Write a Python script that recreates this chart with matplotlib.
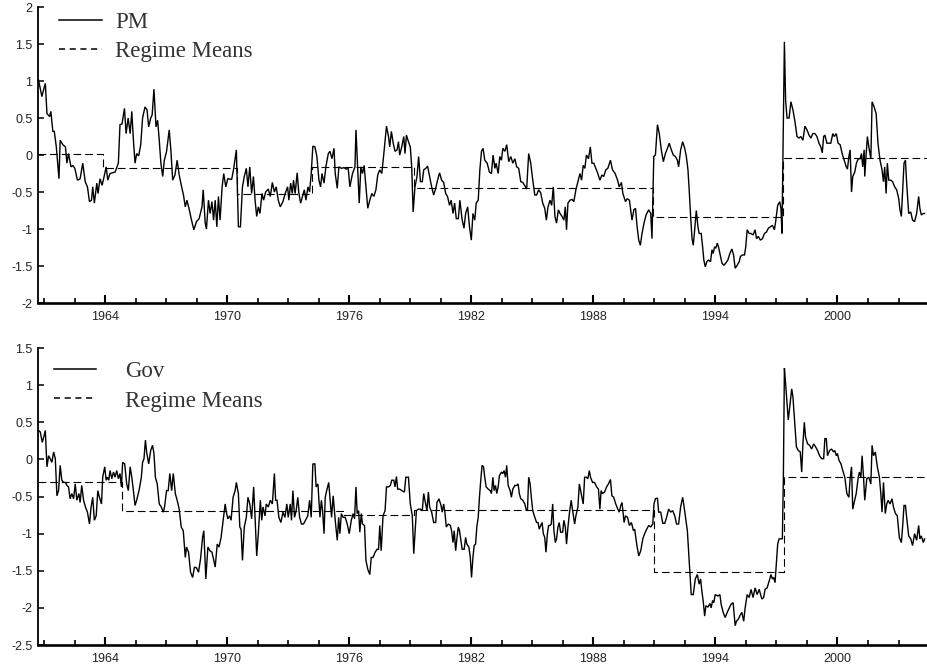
import matplotlib

matplotlib.use("Agg")
import matplotlib.pyplot as plt
import numpy as np
from matplotlib.lines import Line2D
from matplotlib.ticker import FixedLocator, FuncFormatter


# (year, value) vertices
PM_POINTS = [
    (1960.73, 1.01), (1960.89, 0.79), (1961.06, 0.97), (1961.14, 0.56), (1961.27, 0.52), (1961.33, 0.59),
    (1961.43, 0.32), (1961.50, 0.32), (1961.60, 0.11), (1961.73, -0.32), (1961.79, 0.20), (1961.92, 0.14),
    (1962.05, 0.11), (1962.12, -0.11), (1962.20, 0.02), (1962.32, -0.16), (1962.41, -0.14), (1962.51, -0.18),
    (1962.64, -0.34), (1962.77, -0.32), (1962.90, -0.11), (1963.02, -0.36), (1963.13, -0.43), (1963.23, -0.63),
    (1963.33, -0.61), (1963.39, -0.43), (1963.47, -0.65), (1963.59, -0.38), (1963.65, -0.52), (1963.75, -0.32),
    (1963.85, -0.41), (1963.95, -0.29), (1964.05, -0.16), (1964.13, -0.34), (1964.24, -0.25), (1964.49, -0.23),
    (1964.65, -0.11), (1964.73, 0.41), (1964.83, 0.42), (1964.95, 0.63), (1965.03, 0.29), (1965.13, 0.50),
    (1965.23, 0.29), (1965.31, 0.59), (1965.39, 0.20), (1965.47, -0.11), (1965.55, 0.02), (1965.65, -0.01),
    (1965.75, 0.14), (1965.84, 0.50), (1965.96, 0.65), (1966.06, 0.61), (1966.14, 0.38), (1966.24, 0.50),
    (1966.31, 0.54), (1966.40, 0.89), (1966.50, 0.38), (1966.58, 0.47), (1966.66, 0.20), (1966.74, -0.11),
    (1966.83, -0.29), (1966.91, -0.07), (1967.02, 0.05), (1967.15, 0.34), (1967.23, 0.07), (1967.32, -0.34),
    (1967.43, -0.27), (1967.54, -0.07), (1967.64, -0.27), (1967.76, -0.43), (1967.85, -0.54), (1967.94, -0.70),
    (1968.02, -0.61), (1968.12, -0.72), (1968.23, -0.86), (1968.36, -1.01), (1968.49, -0.90), (1968.62, -0.86),
    (1968.76, -0.70), (1968.82, -0.47), (1968.92, -0.92), (1968.98, -1.00), (1969.08, -0.61), (1969.16, -0.79),
    (1969.25, -0.63), (1969.33, -0.88), (1969.41, -0.61), (1969.49, -0.97), (1969.57, -0.56), (1969.65, -0.88),
    (1969.75, -0.43), (1969.83, -0.25), (1969.93, -0.43), (1970.03, -0.32), (1970.22, -0.33), (1970.32, -0.18),
    (1970.45, 0.07), (1970.55, -0.97), (1970.65, -0.97), (1970.75, -0.43), (1970.84, -0.29), (1970.94, -0.18),
    (1971.02, -0.43), (1971.11, -0.16), (1971.20, -0.52), (1971.29, -0.29), (1971.37, -0.61), (1971.45, -0.83),
    (1971.53, -0.70), (1971.61, -0.79), (1971.71, -0.52), (1971.79, -0.61), (1971.89, -0.50), (1972.02, -0.46),
    (1972.12, -0.56), (1972.22, -0.37), (1972.32, -0.50), (1972.41, -0.43), (1972.51, -0.61), (1972.61, -0.70),
    (1972.74, -0.63), (1972.85, -0.52), (1972.97, -0.43), (1973.03, -0.61), (1973.12, -0.38), (1973.20, -0.52),
    (1973.26, -0.34), (1973.34, -0.52), (1973.44, -0.24), (1973.52, -0.51), (1973.61, -0.65), (1973.70, -0.56),
    (1973.79, -0.47), (1973.87, -0.61), (1973.97, -0.43), (1974.05, -0.50), (1974.13, -0.25), (1974.21, 0.12),
    (1974.31, 0.11), (1974.41, -0.02), (1974.51, -0.34), (1974.59, -0.43), (1974.66, -0.25), (1974.76, -0.38),
    (1974.85, -0.16), (1974.97, 0.02), (1975.05, 0.05), (1975.15, -0.05), (1975.25, 0.09), (1975.31, -0.25),
    (1975.41, -0.45), (1975.49, -0.16), (1975.62, -0.18), (1975.74, -0.17), (1975.84, -0.19), (1975.95, -0.18),
    (1976.03, -0.43), (1976.16, -0.25), (1976.28, -0.16), (1976.33, 0.34), (1976.41, -0.16), (1976.49, -0.65),
    (1976.57, -0.16), (1976.65, -0.25), (1976.73, -0.14), (1976.82, -0.43), (1976.91, -0.72), (1977.01, -0.61),
    (1977.11, -0.52), (1977.21, -0.56), (1977.31, -0.47), (1977.40, -0.27), (1977.50, -0.20), (1977.60, -0.25),
    (1977.70, 0.02), (1977.83, 0.39), (1977.93, 0.25), (1977.99, 0.11), (1978.07, 0.32), (1978.16, 0.16),
    (1978.25, 0.05), (1978.35, 0.07), (1978.42, 0.18), (1978.48, 0.00), (1978.58, 0.11), (1978.68, 0.25),
    (1978.74, 0.02), (1978.81, 0.27), (1978.91, 0.18), (1979.00, 0.11), (1979.07, -0.16), (1979.14, -0.77),
    (1979.23, -0.43), (1979.33, -0.29), (1979.41, -0.02), (1979.50, -0.36), (1979.59, -0.36), (1979.66, -0.20),
    (1979.76, -0.18), (1979.85, -0.15), (1979.95, -0.29), (1980.05, -0.43), (1980.15, -0.54), (1980.25, -0.45),
    (1980.34, -0.34), (1980.44, -0.24), (1980.54, -0.34), (1980.64, -0.37), (1980.74, -0.52), (1980.83, -0.56),
    (1980.93, -0.68), (1981.01, -0.61), (1981.10, -0.79), (1981.18, -0.65), (1981.26, -0.86), (1981.36, -0.86),
    (1981.44, -0.61), (1981.54, -0.86), (1981.64, -0.99), (1981.72, -0.79), (1981.82, -0.70), (1981.91, -0.97),
    (1982.00, -1.15), (1982.08, -0.79), (1982.17, -0.88), (1982.24, -0.65), (1982.34, -0.61), (1982.42, -0.20),
    (1982.50, 0.05), (1982.58, 0.09), (1982.66, -0.07), (1982.78, -0.11), (1982.89, -0.23), (1982.99, -0.25),
    (1983.07, 0.00), (1983.16, -0.18), (1983.22, -0.11), (1983.32, -0.25), (1983.40, -0.02), (1983.48, -0.07),
    (1983.55, 0.09), (1983.65, 0.05), (1983.74, 0.14), (1983.84, -0.09), (1983.94, -0.02), (1984.04, -0.11),
    (1984.14, -0.05), (1984.23, -0.16), (1984.33, -0.18), (1984.43, -0.36), (1984.53, -0.37), (1984.62, -0.41),
    (1984.72, -0.46), (1984.82, 0.02), (1984.92, -0.11), (1985.02, -0.34), (1985.12, -0.54), (1985.21, -0.54),
    (1985.31, -0.47), (1985.41, -0.51), (1985.51, -0.65), (1985.61, -0.72), (1985.69, -0.88), (1985.77, -0.70),
    (1985.87, -0.61), (1985.95, -0.68), (1986.03, -0.43), (1986.11, -0.83), (1986.19, -0.92), (1986.28, -0.74),
    (1986.36, -0.79), (1986.46, -0.83), (1986.55, -0.88), (1986.62, -0.70), (1986.68, -1.01), (1986.75, -0.65),
    (1986.85, -0.61), (1986.95, -0.60), (1987.04, -0.63), (1987.14, -0.47), (1987.24, -0.36), (1987.34, -0.25),
    (1987.42, -0.34), (1987.50, -0.14), (1987.58, -0.18), (1987.66, 0.00), (1987.76, -0.05), (1987.85, 0.11),
    (1987.93, -0.11), (1988.02, -0.11), (1988.12, -0.18), (1988.22, -0.25), (1988.32, -0.34), (1988.42, -0.27),
    (1988.51, -0.29), (1988.61, -0.20), (1988.71, -0.18), (1988.84, -0.07), (1988.94, -0.20), (1989.07, -0.25),
    (1989.19, -0.34), (1989.27, -0.43), (1989.38, -0.37), (1989.45, -0.52), (1989.58, -0.63), (1989.66, -0.59),
    (1989.77, -0.61), (1989.90, -0.88), (1989.99, -0.74), (1990.07, -0.72), (1990.15, -0.97), (1990.23, -1.15),
    (1990.31, -1.22), (1990.39, -1.06), (1990.49, -0.92), (1990.59, -0.81), (1990.72, -0.74), (1990.82, -0.79),
    (1990.88, -1.13), (1990.97, -0.02), (1991.05, 0.00), (1991.15, 0.41), (1991.24, 0.29), (1991.34, 0.07),
    (1991.44, -0.09), (1991.54, 0.02), (1991.64, 0.09), (1991.73, 0.16), (1991.83, 0.07), (1991.93, 0.00),
    (1992.03, -0.02), (1992.13, -0.07), (1992.19, -0.16), (1992.29, 0.07), (1992.39, 0.18), (1992.49, 0.09),
    (1992.57, -0.02), (1992.65, -0.20), (1992.71, -0.47), (1992.78, -0.83), (1992.85, -1.13), (1992.91, -1.22),
    (1992.98, -1.01), (1993.06, -0.75), (1993.14, -0.97), (1993.20, -1.06), (1993.30, -1.06), (1993.37, -1.24),
    (1993.43, -1.42), (1993.50, -1.51), (1993.58, -1.44), (1993.66, -1.42), (1993.76, -1.44), (1993.83, -1.28),
    (1993.89, -1.33), (1993.96, -1.24), (1994.02, -1.26), (1994.09, -1.19), (1994.15, -1.24), (1994.22, -1.33),
    (1994.32, -1.46), (1994.41, -1.49), (1994.51, -1.46), (1994.61, -1.42), (1994.71, -1.33), (1994.81, -1.27),
    (1994.89, -1.35), (1994.97, -1.53), (1995.07, -1.49), (1995.17, -1.44), (1995.23, -1.37), (1995.33, -1.35),
    (1995.43, -1.35), (1995.49, -1.24), (1995.56, -1.01), (1995.66, -1.06), (1995.75, -1.06), (1995.85, -1.08),
    (1995.95, -1.01), (1996.02, -1.13), (1996.11, -1.10), (1996.21, -1.15), (1996.31, -1.13), (1996.41, -1.06),
    (1996.51, -1.04), (1996.60, -0.99), (1996.70, -0.97), (1996.80, -0.95), (1996.90, -1.01), (1996.96, -0.90),
    (1997.06, -0.68), (1997.16, -0.63), (1997.22, -0.72), (1997.27, -1.06), (1997.32, 0.02), (1997.39, 1.53),
    (1997.45, 0.74), (1997.52, 0.50), (1997.62, 0.50), (1997.71, 0.72), (1997.81, 0.61), (1997.91, 0.45),
    (1998.01, 0.25), (1998.11, 0.23), (1998.20, 0.25), (1998.30, 0.20), (1998.40, 0.39), (1998.50, 0.34),
    (1998.60, 0.27), (1998.69, 0.23), (1998.79, 0.29), (1998.89, 0.29), (1998.99, 0.25), (1999.09, 0.16),
    (1999.18, 0.11), (1999.25, 0.03), (1999.32, 0.25), (1999.38, 0.27), (1999.48, 0.16), (1999.58, 0.16),
    (1999.67, 0.16), (1999.77, 0.29), (1999.84, 0.25), (1999.94, 0.29), (2000.03, 0.16), (2000.13, 0.14),
    (2000.23, 0.02), (2000.33, -0.07), (2000.43, -0.16), (2000.49, -0.19), (2000.56, -0.02), (2000.62, 0.07),
    (2000.69, -0.50), (2000.75, -0.29), (2000.85, -0.23), (2000.93, -0.11), (2001.02, -0.05), (2001.11, -0.05),
    (2001.18, 0.02), (2001.24, -0.16), (2001.31, 0.07), (2001.34, -0.29), (2001.41, 0.02), (2001.47, 0.25),
    (2001.54, 0.11), (2001.64, -0.05), (2001.70, 0.72), (2001.80, 0.65), (2001.90, 0.56), (2001.99, 0.16),
    (2002.09, -0.07), (2002.19, -0.20), (2002.26, -0.36), (2002.32, -0.16), (2002.39, -0.52), (2002.45, -0.11),
    (2002.52, -0.34), (2002.62, -0.34), (2002.71, -0.36), (2002.81, -0.43), (2002.91, -0.47), (2003.01, -0.59),
    (2003.07, -0.74), (2003.14, -0.83), (2003.20, -0.50), (2003.27, -0.11), (2003.34, -0.07), (2003.40, -0.38),
    (2003.50, -0.79), (2003.60, -0.77), (2003.69, -0.88), (2003.79, -0.90), (2003.89, -0.79), (2003.99, -0.56),
    (2004.05, -0.72), (2004.12, -0.81), (2004.22, -0.79), (2004.28, -0.79),
]

# (year, value) vertices
GOV_POINTS = [
    (1960.73, 0.39), (1960.81, 0.37), (1960.91, 0.23), (1960.98, 0.30), (1961.06, 0.39), (1961.14, -0.10),
    (1961.22, 0.05), (1961.30, 0.01), (1961.38, -0.04), (1961.47, 0.10), (1961.55, 0.01), (1961.63, -0.49),
    (1961.71, -0.42), (1961.79, -0.08), (1961.87, -0.28), (1961.96, -0.31), (1962.05, -0.31), (1962.12, -0.35),
    (1962.20, -0.37), (1962.28, -0.53), (1962.36, -0.46), (1962.45, -0.53), (1962.53, -0.33), (1962.61, -0.55),
    (1962.71, -0.46), (1962.77, -0.58), (1962.85, -0.35), (1962.94, -0.55), (1963.03, -0.64), (1963.13, -0.71),
    (1963.23, -0.87), (1963.31, -0.64), (1963.39, -0.51), (1963.47, -0.82), (1963.56, -0.76), (1963.64, -0.42),
    (1963.72, -0.51), (1963.82, -0.60), (1963.88, -0.24), (1963.98, -0.10), (1964.05, -0.28), (1964.11, -0.24),
    (1964.18, -0.28), (1964.24, -0.15), (1964.33, -0.26), (1964.41, -0.17), (1964.49, -0.24), (1964.57, -0.15),
    (1964.65, -0.26), (1964.73, -0.19), (1964.80, -0.37), (1964.86, -0.04), (1964.96, -0.06), (1965.06, -0.33),
    (1965.14, -0.42), (1965.23, -0.10), (1965.31, -0.24), (1965.39, -0.42), (1965.47, -0.62), (1965.55, -0.55),
    (1965.68, -0.40), (1965.78, -0.24), (1965.84, -0.04), (1965.91, 0.01), (1965.98, 0.26), (1966.04, 0.10),
    (1966.14, -0.06), (1966.24, 0.12), (1966.33, 0.19), (1966.40, 0.08), (1966.47, -0.24), (1966.56, -0.33),
    (1966.66, -0.60), (1966.76, -0.64), (1966.86, -0.71), (1966.92, -0.64), (1967.02, -0.42), (1967.10, -0.42),
    (1967.18, -0.19), (1967.27, -0.42), (1967.35, -0.19), (1967.45, -0.46), (1967.54, -0.55), (1967.64, -0.67),
    (1967.74, -0.91), (1967.84, -0.96), (1967.94, -1.32), (1968.00, -1.18), (1968.10, -1.25), (1968.20, -1.52),
    (1968.30, -1.59), (1968.39, -1.45), (1968.49, -1.46), (1968.59, -1.52), (1968.69, -1.34), (1968.79, -1.05),
    (1968.85, -0.96), (1968.95, -1.61), (1969.05, -1.18), (1969.15, -1.23), (1969.25, -1.25), (1969.31, -1.32),
    (1969.41, -1.45), (1969.51, -1.14), (1969.60, -1.18), (1969.70, -1.05), (1969.80, -0.82), (1969.90, -0.60),
    (1969.96, -0.71), (1970.03, -0.80), (1970.12, -0.76), (1970.19, -0.82), (1970.29, -0.51), (1970.39, -0.42),
    (1970.45, -0.31), (1970.55, -0.46), (1970.62, -0.91), (1970.68, -0.94), (1970.75, -1.36), (1970.84, -0.91),
    (1970.94, -0.78), (1971.02, -0.51), (1971.11, -0.60), (1971.20, -0.80), (1971.30, -0.37), (1971.37, -0.78),
    (1971.45, -1.30), (1971.53, -1.00), (1971.63, -0.55), (1971.70, -0.82), (1971.76, -0.64), (1971.86, -0.76),
    (1971.92, -0.60), (1972.02, -0.64), (1972.12, -0.55), (1972.22, -0.60), (1972.32, -0.19), (1972.38, -0.55),
    (1972.45, -0.55), (1972.54, -0.78), (1972.64, -0.85), (1972.74, -0.71), (1972.84, -0.78), (1972.93, -0.60),
    (1973.00, -0.78), (1973.10, -0.60), (1973.16, -0.82), (1973.23, -0.42), (1973.31, -0.78), (1973.39, -0.69),
    (1973.47, -0.51), (1973.56, -0.78), (1973.65, -0.87), (1973.75, -0.87), (1973.85, -0.82), (1973.96, -0.76),
    (1974.05, -0.55), (1974.13, -0.78), (1974.21, -0.06), (1974.31, -0.06), (1974.37, -0.37), (1974.46, -0.33),
    (1974.56, -0.78), (1974.63, -0.55), (1974.69, -0.69), (1974.76, -1.00), (1974.82, -0.51), (1974.89, -0.42),
    (1974.99, -0.31), (1975.05, -0.51), (1975.13, -0.78), (1975.21, -0.49), (1975.31, -0.82), (1975.41, -1.09),
    (1975.48, -0.78), (1975.54, -1.00), (1975.61, -0.73), (1975.70, -0.78), (1975.80, -0.78), (1975.90, -0.87),
    (1976.00, -1.00), (1976.10, -0.82), (1976.19, -0.73), (1976.26, -0.80), (1976.33, -0.37), (1976.39, -0.73),
    (1976.46, -0.69), (1976.52, -0.98), (1976.59, -0.73), (1976.65, -0.87), (1976.75, -0.89), (1976.82, -1.36),
    (1976.91, -1.48), (1977.01, -1.55), (1977.08, -1.32), (1977.17, -1.32), (1977.27, -1.25), (1977.37, -1.21),
    (1977.44, -1.21), (1977.50, -0.89), (1977.57, -1.23), (1977.66, -0.76), (1977.76, -0.69), (1977.83, -0.37),
    (1977.93, -0.37), (1978.02, -0.35), (1978.09, -0.28), (1978.19, -0.28), (1978.25, -0.37), (1978.32, -0.23),
    (1978.38, -0.40), (1978.48, -0.40), (1978.58, -0.42), (1978.71, -0.44), (1978.78, -0.24), (1978.91, -0.24),
    (1979.00, -0.60), (1979.10, -0.76), (1979.17, -1.27), (1979.23, -1.00), (1979.30, -0.69), (1979.40, -0.67),
    (1979.50, -0.67), (1979.59, -0.69), (1979.66, -0.46), (1979.72, -0.55), (1979.82, -0.69), (1979.89, -0.44),
    (1979.95, -0.64), (1980.05, -0.71), (1980.15, -0.85), (1980.25, -0.85), (1980.31, -0.58), (1980.41, -0.53),
    (1980.51, -0.62), (1980.57, -0.71), (1980.64, -0.60), (1980.70, -0.71), (1980.77, -0.91), (1980.87, -0.87),
    (1980.97, -0.89), (1981.03, -0.96), (1981.10, -1.12), (1981.16, -0.96), (1981.23, -1.23), (1981.29, -1.07),
    (1981.36, -0.91), (1981.42, -0.96), (1981.49, -1.09), (1981.55, -1.21), (1981.65, -1.21), (1981.72, -1.05),
    (1981.78, -1.14), (1981.88, -1.18), (1981.95, -1.32), (1982.01, -1.59), (1982.08, -1.32), (1982.14, -1.16),
    (1982.21, -1.14), (1982.27, -0.91), (1982.34, -0.78), (1982.40, -0.51), (1982.47, -0.26), (1982.53, -0.08),
    (1982.60, -0.10), (1982.66, -0.24), (1982.73, -0.37), (1982.83, -0.40), (1982.93, -0.42), (1982.99, -0.46),
    (1983.06, -0.24), (1983.12, -0.42), (1983.19, -0.35), (1983.25, -0.46), (1983.32, -0.37), (1983.38, -0.22),
    (1983.48, -0.17), (1983.55, -0.19), (1983.61, -0.15), (1983.68, -0.24), (1983.74, -0.08), (1983.81, -0.35),
    (1983.91, -0.42), (1983.97, -0.51), (1984.04, -0.40), (1984.14, -0.35), (1984.23, -0.35), (1984.30, -0.33),
    (1984.36, -0.46), (1984.43, -0.53), (1984.53, -0.55), (1984.63, -0.60), (1984.69, -0.67), (1984.76, -0.69),
    (1984.82, -0.24), (1984.89, -0.33), (1984.95, -0.51), (1985.02, -0.69), (1985.12, -0.78), (1985.21, -0.85),
    (1985.28, -0.85), (1985.34, -0.94), (1985.41, -0.89), (1985.48, -0.85), (1985.54, -1.00), (1985.61, -1.05),
    (1985.67, -1.25), (1985.74, -1.00), (1985.80, -0.89), (1985.87, -0.89), (1985.93, -0.87), (1986.00, -0.60),
    (1986.06, -0.96), (1986.13, -1.12), (1986.19, -1.07), (1986.26, -0.91), (1986.32, -0.85), (1986.39, -0.98),
    (1986.49, -0.98), (1986.55, -0.82), (1986.62, -0.91), (1986.68, -1.14), (1986.75, -0.91), (1986.82, -0.73),
    (1986.91, -0.55), (1986.98, -0.69), (1987.08, -0.87), (1987.14, -0.76), (1987.24, -0.64), (1987.31, -0.33),
    (1987.40, -0.46), (1987.50, -0.60), (1987.57, -0.24), (1987.66, -0.24), (1987.73, -0.26), (1987.80, -0.15),
    (1987.86, -0.24), (1987.96, -0.31), (1988.06, -0.31), (1988.16, -0.37), (1988.25, -0.40), (1988.32, -0.67),
    (1988.38, -0.42), (1988.45, -0.46), (1988.55, -0.44), (1988.65, -0.37), (1988.74, -0.33), (1988.84, -0.27),
    (1988.91, -0.49), (1989.00, -0.51), (1989.10, -0.60), (1989.20, -0.67), (1989.27, -0.71), (1989.35, -0.62),
    (1989.41, -0.58), (1989.51, -0.85), (1989.58, -0.76), (1989.68, -0.78), (1989.77, -0.89), (1989.87, -0.85),
    (1989.97, -0.96), (1990.03, -0.94), (1990.13, -1.14), (1990.23, -1.30), (1990.33, -1.23), (1990.43, -1.07),
    (1990.52, -1.00), (1990.62, -0.94), (1990.72, -0.89), (1990.82, -0.91), (1990.92, -0.87), (1990.98, -0.60),
    (1991.05, -0.53), (1991.15, -0.52), (1991.21, -0.71), (1991.31, -0.71), (1991.41, -0.86), (1991.51, -0.86),
    (1991.60, -0.78), (1991.70, -0.67), (1991.80, -0.71), (1991.90, -0.69), (1992.00, -0.76), (1992.09, -0.87),
    (1992.19, -0.87), (1992.29, -0.64), (1992.39, -0.51), (1992.45, -0.62), (1992.52, -0.76), (1992.62, -0.96),
    (1992.68, -1.23), (1992.75, -1.55), (1992.81, -1.82), (1992.91, -1.82), (1993.01, -1.61), (1993.11, -1.55),
    (1993.20, -1.68), (1993.27, -1.61), (1993.34, -1.79), (1993.40, -1.91), (1993.47, -2.11), (1993.53, -1.97),
    (1993.63, -1.99), (1993.73, -1.94), (1993.79, -2.00), (1993.86, -1.90), (1993.92, -1.93), (1993.99, -1.82),
    (1994.12, -1.84), (1994.22, -1.82), (1994.28, -1.95), (1994.38, -2.06), (1994.48, -2.13), (1994.58, -2.06),
    (1994.68, -2.00), (1994.77, -1.95), (1994.87, -1.93), (1994.97, -2.24), (1995.03, -2.18), (1995.13, -2.15),
    (1995.23, -2.09), (1995.30, -2.06), (1995.39, -2.18), (1995.46, -2.00), (1995.56, -1.82), (1995.66, -1.86),
    (1995.75, -1.75), (1995.85, -1.86), (1995.95, -1.73), (1996.05, -1.82), (1996.15, -1.75), (1996.28, -1.88),
    (1996.37, -1.86), (1996.44, -1.75), (1996.54, -1.73), (1996.64, -1.64), (1996.73, -1.55), (1996.80, -1.61),
    (1996.86, -1.59), (1996.93, -1.66), (1996.99, -1.41), (1997.06, -1.14), (1997.13, -1.07), (1997.22, -1.07),
    (1997.29, -1.07), (1997.34, -0.24), (1997.39, 1.23), (1997.45, 1.02), (1997.52, 0.75), (1997.58, 0.53),
    (1997.68, 0.77), (1997.75, 0.95), (1997.81, 0.84), (1997.88, 0.57), (1997.98, 0.17), (1998.07, 0.12),
    (1998.17, 0.10), (1998.24, -0.17), (1998.30, 0.21), (1998.37, 0.50), (1998.43, 0.30), (1998.53, 0.21),
    (1998.63, 0.19), (1998.73, 0.14), (1998.83, 0.21), (1998.92, 0.17), (1999.02, 0.12), (1999.12, 0.05),
    (1999.22, 0.01), (1999.32, 0.01), (1999.38, 0.28), (1999.45, 0.28), (1999.51, 0.05), (1999.61, 0.12),
    (1999.71, 0.14), (1999.81, 0.10), (1999.87, 0.12), (1999.94, 0.05), (2000.00, 0.08), (2000.07, -0.01),
    (2000.17, -0.06), (2000.26, -0.15), (2000.36, -0.24), (2000.46, -0.46), (2000.56, -0.51), (2000.62, -0.26),
    (2000.69, -0.10), (2000.75, -0.67), (2000.82, -0.58), (2000.92, -0.46), (2001.02, -0.24), (2001.08, -0.17),
    (2001.15, -0.24), (2001.21, 0.05), (2001.28, -0.24), (2001.34, -0.55), (2001.44, -0.26), (2001.54, -0.24),
    (2001.64, -0.33), (2001.70, 0.19), (2001.77, 0.05), (2001.86, 0.10), (2001.96, -0.10), (2002.06, -0.24),
    (2002.13, -0.46), (2002.19, -0.71), (2002.26, -0.31), (2002.35, -0.73), (2002.42, -0.60), (2002.49, -0.55),
    (2002.58, -0.60), (2002.68, -0.53), (2002.75, -0.64), (2002.85, -0.73), (2002.94, -0.76), (2003.04, -1.05),
    (2003.14, -1.12), (2003.20, -0.91), (2003.27, -0.62), (2003.34, -0.62), (2003.40, -0.78), (2003.50, -1.03),
    (2003.60, -1.07), (2003.69, -1.16), (2003.79, -1.00), (2003.89, -1.09), (2003.99, -0.89), (2004.05, -1.07),
    (2004.12, -1.03), (2004.22, -1.12), (2004.28, -1.07),
]

# regime start years and the mean level of each regime
PM_REGIME_STARTS = [1960.70, 1963.90, 1970.50, 1974.16, 1979.17, 1990.93, 1997.30]
PM_REGIME_MEANS = [0.01, -0.17, -0.53, -0.16, -0.45, -0.84, -0.045]
GOV_REGIME_STARTS = [1960.70, 1964.83, 1975.70, 1979.20, 1990.98, 1997.35]
GOV_REGIME_MEANS = [-0.31, -0.70, -0.75, -0.68, -1.52, -0.24]
SAMPLE_START = 1960.70
SAMPLE_END = 2004.40

MAJOR_YEARS = [1964, 1970, 1976, 1982, 1988, 1994, 2000]
MINOR_STEP = 1.5
PM_YTICKS = [-2, -1.5, -1, -0.5, 0, 0.5, 1, 1.5, 2]
GOV_YTICKS = [-2.5, -2, -1.5, -1, -0.5, 0, 0.5, 1, 1.5]

SERIF = ["Liberation Serif", "DejaVu Serif"]
SANS = ["Liberation Sans", "DejaVu Sans"]


def style_axes(ax, yticks):
    for side in ("top", "right"):
        ax.spines[side].set_visible(False)
    ax.spines["left"].set_linewidth(1.3)
    ax.spines["bottom"].set_linewidth(1.9)
    ax.set_xlim(SAMPLE_START, SAMPLE_END)
    ax.set_ylim(yticks[0], yticks[-1])
    ax.xaxis.set_major_locator(FixedLocator(MAJOR_YEARS))
    ax.xaxis.set_minor_locator(FixedLocator(np.arange(1961, SAMPLE_END, MINOR_STEP)))
    ax.yaxis.set_major_locator(FixedLocator(yticks))
    ax.xaxis.set_major_formatter(FuncFormatter(lambda v, _: f"{int(round(v))}"))
    ax.yaxis.set_major_formatter(FuncFormatter(lambda v, _: f"{v:g}"))
    ax.tick_params(axis="x", which="major", direction="in", length=6, width=1.5, pad=6, labelsize=9)
    ax.tick_params(axis="x", which="minor", direction="in", length=3.5, width=1.2)
    ax.tick_params(axis="y", which="major", direction="in", length=4, width=1.1, pad=4, labelsize=9)
    for lab in ax.get_xticklabels() + ax.get_yticklabels():
        lab.set_family(SANS)
        lab.set_color("#222222")


def draw_panel(ax, points, starts, means, yticks, label, anchor, textpad):
    pts = np.asarray(points)
    ax.plot(pts[:, 0], pts[:, 1], color="black", lw=1.0, solid_joinstyle="miter")

    step_x = np.append(starts, SAMPLE_END)
    step_y = np.append(means, means[-1])
    ax.step(step_x, step_y, where="post", color="black", lw=0.8, linestyle=(0, (7, 3.5)))

    style_axes(ax, yticks)

    handles = [
        Line2D([], [], color="black", lw=1.1),
        Line2D([], [], color="black", lw=1.1, linestyle=(0, (4, 3))),
    ]
    ax.legend(
        handles,
        [label, "Regime Means"],
        loc="upper left",
        bbox_to_anchor=anchor,
        frameon=False,
        borderpad=0,
        borderaxespad=0,
        handlelength=1.85,
        handletextpad=textpad,
        labelspacing=0.35,
        prop={"family": SERIF, "size": 16.5},
        labelcolor="#333333",
    )


def main() -> None:
    plt.rcParams["axes.unicode_minus"] = False
    fig = plt.figure(figsize=(9.27, 6.71), dpi=100)
    ax_top = fig.add_axes([0.041, 0.5484, 0.959, 0.4411])
    ax_bot = fig.add_axes([0.041, 0.0387, 0.959, 0.4426])

    draw_panel(ax_top, PM_POINTS, PM_REGIME_STARTS, PM_REGIME_MEANS, PM_YTICKS, "PM", (0.024, 0.985), 0.6)
    draw_panel(ax_bot, GOV_POINTS, GOV_REGIME_STARTS, GOV_REGIME_MEANS, GOV_YTICKS, "Gov", (0.018, 0.955), 1.25)

    fig.savefig("out.png", dpi=100)
    plt.close(fig)


if __name__ == "__main__":
    main()
